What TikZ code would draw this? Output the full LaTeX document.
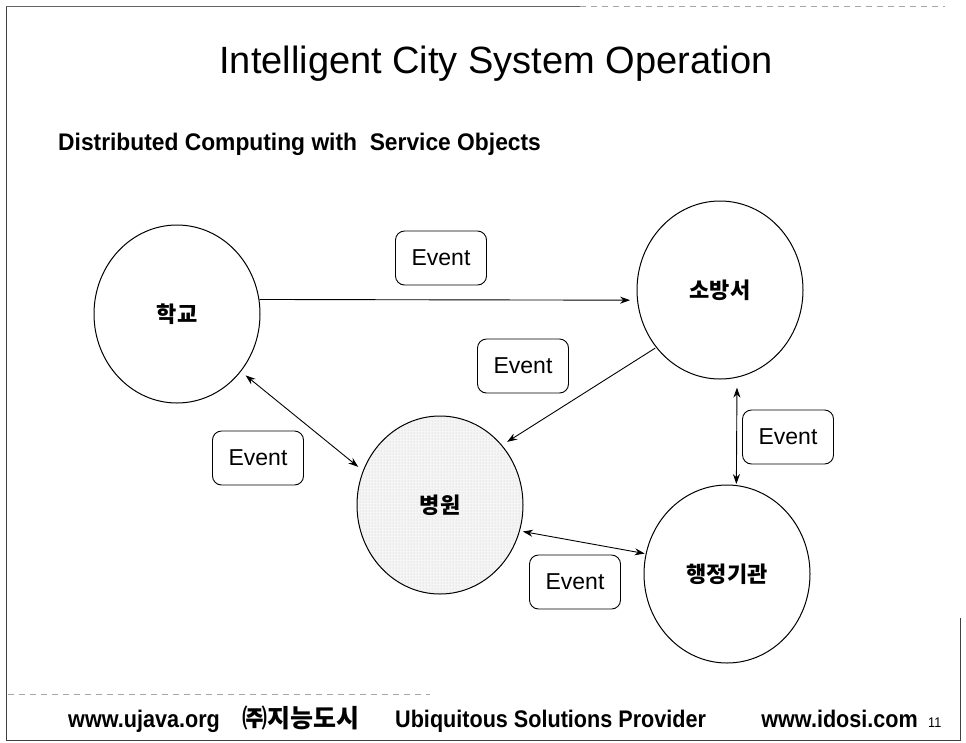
\documentclass[tikz,border=0pt]{standalone}
\usepackage{fontspec}
\setmainfont{Liberation Sans}
\newfontfamily\kr{Noto Sans CJK KR}
\newfontfamily\footfont[FakeStretch=0.9]{Liberation Sans}
\newfontfamily\subfont[FakeStretch=0.95]{Liberation Sans}
\usetikzlibrary{shapes.geometric,arrows.meta,patterns}
\begin{document}
\begin{tikzpicture}[x=1pt,y=-1pt,
  place/.style={ellipse,draw,line width=1pt,minimum width=166pt,minimum height=178pt,inner sep=0pt,font=\kr\bfseries\fontsize{22}{24}\selectfont},
  evbox/.style={draw,line width=0.9pt,rounded corners=9pt,minimum width=91pt,minimum height=54pt,inner sep=0pt,font=\fontsize{23}{25}\selectfont},
  link/.style={line width=0.9pt,-{Stealth[length=10pt,width=7pt]}},
  blink/.style={line width=0.9pt,{Stealth[length=10pt,width=7pt]}-{Stealth[length=10pt,width=7pt]}},
  frame/.style={line width=1pt,draw=black!75},
  faint/.style={line width=0.8pt,draw=black!35,dash pattern=on 6pt off 5pt},
]
\useasboundingbox (0,0) rectangle (966,742);
\fill[white] (0,0) rectangle (966,742);

% slide frame (scan)
\draw[frame] (6,6) -- (6,740) -- (960,740) -- (960,618);
\draw[line width=0.8pt,draw=black!60] (6,6) -- (580,6);
\draw[faint] (580,6) -- (945,6);
\draw[faint] (8,694) -- (430,694);

% titles
\node[anchor=base,font=\fontsize{38}{40}\selectfont] (title) at (496,73) {Intelligent City System Operation};
\node[anchor=base west,inner sep=0pt,font=\subfont\bfseries\fontsize{24}{26}\selectfont] (sub) at (58,150) {Distributed Computing with\ \ Service Objects};

% places
\node[place] (xue) at (177,314) {학교};
\node[place] (sobang) at (720,290) {소방서};
\node[place,preaction={fill=black!4},pattern=dots,pattern color=black!22] (byong) at (440,505) {병원};
\node[place] (hang) at (727,574) {행정기관};

% events
\node[evbox] (e1) at (441,258) {Event};
\node[evbox] (e2) at (523,366) {Event};
\node[evbox] (e3) at (258,458) {Event};
\node[evbox] (e4) at (788,437) {Event};
\node[evbox] (e5) at (575,582) {Event};

% connectors
\draw[link,shorten >=7pt] (xue.10) -- (sobang.187);
\draw[link,shorten >=6pt,shorten <=1pt] (sobang.222) -- (byong.44);
\draw[blink,shorten <=6pt,shorten >=6pt] (xue.-42) -- (byong.156);
\draw[blink,shorten <=10pt,shorten >=1pt] (sobang.281) -- (hang.84);
\draw[blink,shorten <=3pt,shorten >=1pt] (byong.-18) -- (hang.166);

% footer
\node[anchor=base west,inner sep=0pt,font=\footfont\bfseries\fontsize{24}{26}\selectfont] (f1) at (68,727) {www.ujava.org};
\node[anchor=base west,inner sep=0pt,font=\kr\bfseries\fontsize{25}{27}\selectfont] (f2) at (242,727) {㈜지능도시};
\node[anchor=base west,inner sep=0pt,font=\footfont\bfseries\fontsize{24}{26}\selectfont] (f3) at (395,727) {Ubiquitous Solutions Provider};
\node[anchor=base east,inner sep=0pt,font=\footfont\bfseries\fontsize{24}{26}\selectfont] (f4) at (918,727) {www.idosi.com};
\node[anchor=base west,inner sep=0pt,font=\footfont\fontsize{14}{16}\selectfont] (f5) at (928,727) {11};
\end{tikzpicture}
\end{document}
